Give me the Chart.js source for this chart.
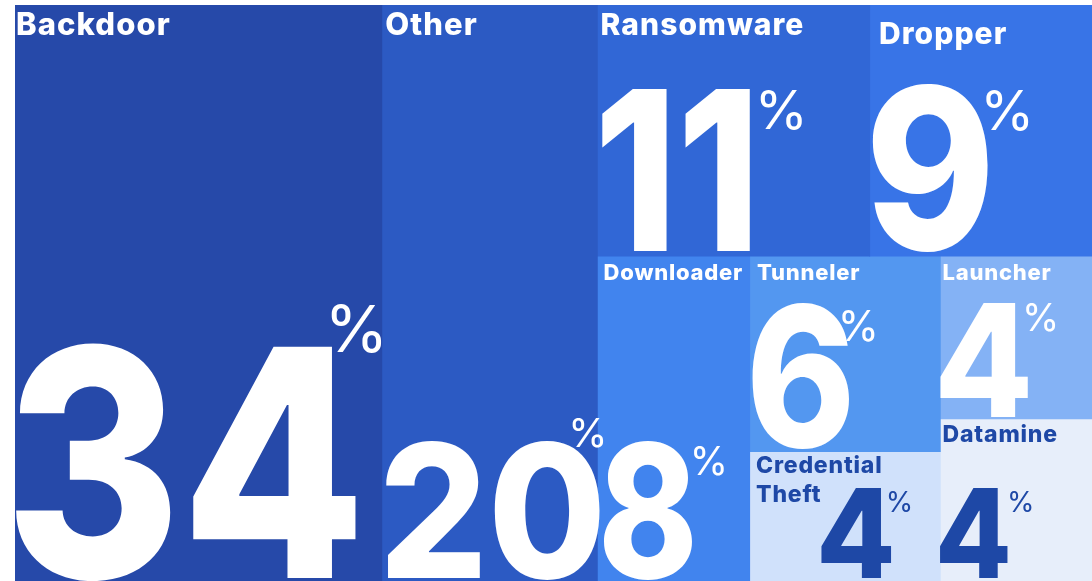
<!DOCTYPE html>
<html>
<head>
<meta charset="utf-8">
<title>Malware families by share</title>
<script src="https://cdn.jsdelivr.net/npm/chart.js@4/dist/chart.umd.min.js"></script>
<style>
  html, body { margin: 0; padding: 0; background: #ffffff; }
  #wrap { width: 1092px; height: 581px; position: relative; }
</style>
</head>
<body>
<div id="wrap"><canvas id="chart" width="1092" height="581"></canvas></div>
<script>
// Malware families and their share of samples (percent)
const categories = ['Backdoor', 'Other', 'Ransomware', 'Dropper', 'Downloader', 'Tunneler', 'Launcher', 'Credential Theft', 'Datamine'];
const shares = [34, 20, 11, 9, 8, 6, 4, 4, 4];

// How the tiles are grouped: 'row' puts children side by side, 'col' stacks them
const tiling = ['row', 0, 1, ['col', ['row', 2, 3], ['row', 4, ['col', 5, 7], ['col', 6, 8]]]];

// Styling per tile
const tileColors = ['#2649a9', '#2c5ac3', '#3167d6', '#3874e7', '#4184ee', '#5397f0', '#84b2f5', '#d0e1fb', '#e7eefa'];
const textColors = ['#ffffff', '#ffffff', '#ffffff', '#ffffff', '#ffffff', '#ffffff', '#ffffff', '#1e48a6', '#1e48a6'];
const nameSize   = [31, 31, 30, 30, 22, 22, 22, 23, 23];
const nameDx     = [1, 4, 4, 10, 7, 8, 3, 7, 3];
const nameDy     = [7, 7, 8, 17, 9, 9, 9, 6, 7];
const numSize    = [318, 186, 223, 224, 186, 195, 157, 124, 124];
const numScaleX  = [0.845, 0.92, 0.845, 0.88, 0.81, 0.85, 0.92, 0.93, 0.9];
const numDx      = [-2, 5, 5, 3, 7, 3, 1, 72, 0];
const numDy      = [-3, -3, -4, -6, -3, -4, -1, -3, -3];
const pctSize    = [65, 40, 54, 55, 39, 42, 38, 28, 28];
const pctDx      = [-26, -28, 11, -2, 1, -8, -2, -3, 2];
const pctDy      = [-42, -25, 0, 3, 4, 5, 0, 4, 4];

const CAP = 0.727;
// tiny overdraw to the right/bottom so neighbouring fills meet without hairline seams
const BLEED_X = 0.12, BLEED_Y = 0.002;

function nodeTotal(node) {
  if (typeof node === 'number') return shares[node];
  return node.slice(1).reduce((s, c) => s + nodeTotal(c), 0);
}

// Split the unit area (x: 0..100, y: 0..1) among the tiles, area proportional to share
const cells = [];
function place(node, x0, y0, x1, y1) {
  if (typeof node === 'number') { cells[node] = { x0, y0, x1, y1 }; return; }
  const total = nodeTotal(node);
  let pos = node[0] === 'row' ? x0 : y0;
  node.slice(1).forEach(child => {
    const f = nodeTotal(child) / total;
    if (node[0] === 'row') {
      const w = (x1 - x0) * f;
      place(child, pos, y0, pos + w, y1);
      pos += w;
    } else {
      const h = (y1 - y0) * f;
      place(child, x0, pos, x1, pos + h);
      pos += h;
    }
  });
}
place(tiling, 0, 0, 100, 1);

// One filled band per tile: top edge as the line, filled down to the bottom edge
const datasets = categories.map((name, i) => {
  const c = cells[i];
  return {
    label: name,
    data: [{ x: c.x0, y: c.y0 }, { x: c.x1 + BLEED_X, y: c.y0 }],
    fill: { value: c.y1 + BLEED_Y },
    backgroundColor: tileColors[i],
    borderColor: tileColors[i],
    borderWidth: 0,
    pointRadius: 0,
    tension: 0
  };
});

const tileLabels = {
  id: 'tileLabels',
  afterDatasetsDraw(chart) {
    const { ctx, chartArea, scales } = chart;
    ctx.save();
    ctx.beginPath();
    ctx.rect(chartArea.left, chartArea.top, chartArea.right - chartArea.left, chartArea.bottom - chartArea.top);
    ctx.clip();
    ctx.textBaseline = 'alphabetic';
    ctx.textAlign = 'left';
    categories.forEach((name, i) => {
      const c = cells[i];
      const left = scales.x.getPixelForValue(c.x0);
      const top = scales.y.getPixelForValue(c.y0);
      const bottom = scales.y.getPixelForValue(c.y1);
      ctx.fillStyle = textColors[i];

      // category name, wrapped onto two lines for Credential Theft
      ctx.font = `800 ${nameSize[i]}px Inter, "Open Sans", sans-serif`;
      ctx.letterSpacing = (nameSize[i] * 0.035).toFixed(2) + 'px';
      const lines = name === 'Credential Theft' ? ['Credential', 'Theft'] : [name];
      lines.forEach((ln, k) => {
        ctx.fillText(ln, left + nameDx[i], top + nameDy[i] + CAP * nameSize[i] + k * nameSize[i] * 1.25);
      });
      ctx.letterSpacing = '0px';

      // big share figure anchored to the tile bottom, ink starting at the given offset
      const txt = String(shares[i]);
      const base = bottom + numDy[i];
      const sx = numScaleX[i];
      ctx.font = `800 ${numSize[i]}px Inter, "Open Sans", sans-serif`;
      const m = ctx.measureText(txt);
      const x0 = left + numDx[i] + m.actualBoundingBoxLeft * sx;
      ctx.save();
      ctx.translate(x0, base);
      ctx.scale(sx, 1);
      ctx.fillText(txt, 0, 0);
      ctx.restore();
      const inkRight = x0 + m.actualBoundingBoxRight * sx;
      const numTop = base - CAP * numSize[i];

      // superscript percent sign
      ctx.font = `400 ${pctSize[i]}px Inter, "Open Sans", sans-serif`;
      const pm = ctx.measureText('%');
      ctx.fillText('%', inkRight + pctDx[i] + pm.actualBoundingBoxLeft, numTop + pctDy[i] + CAP * pctSize[i]);
    });
    ctx.restore();
  }
};

new Chart(document.getElementById('chart'), {
  type: 'line',
  data: { datasets },
  options: {
    responsive: false,
    animation: false,
    layout: { padding: { left: 15, top: 5, right: 0, bottom: 0 } },
    plugins: { legend: { display: false }, tooltip: { enabled: false } },
    scales: {
      x: { type: 'linear', min: 0, max: 100, display: false },
      y: { type: 'linear', min: 0, max: 1, reverse: true, display: false }
    }
  },
  plugins: [tileLabels]
});
</script>
</body>
</html>
